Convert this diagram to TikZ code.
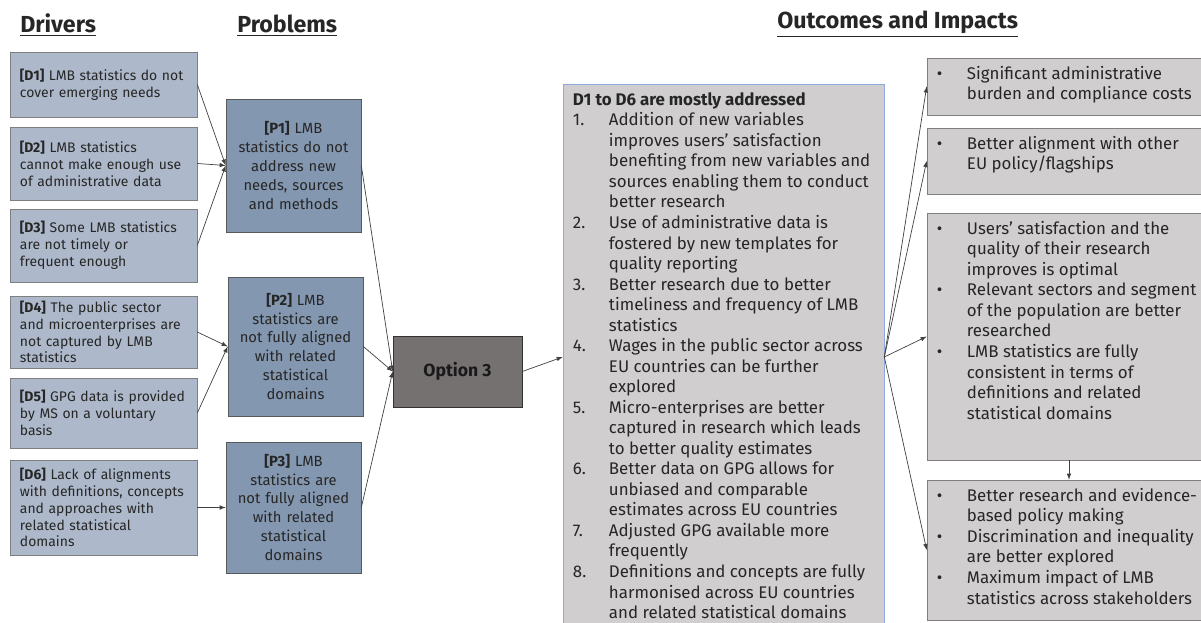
\documentclass[tikz,border=0pt]{standalone}
\usepackage{fontspec}
\setmainfont{Fira Sans}
\usepackage{array}
\definecolor{drvfill}{HTML}{ADB9CA}
\definecolor{prbfill}{HTML}{8497B0}
\definecolor{optfill}{HTML}{767171}
\definecolor{outfill}{HTML}{D0CECE}
\definecolor{boxline}{HTML}{7F7F7F}
\definecolor{resline}{HTML}{8EAADB}
\definecolor{txt}{HTML}{262626}
\begin{document}
\begin{tikzpicture}[x=0.025cm,y=-0.025cm,>=latex,
  drv/.style={draw=boxline,fill=drvfill,text=txt,align=left,text width=4.175cm,inner xsep=0.25cm,minimum width=4.675cm,font=\fontsize{9.9}{12}\selectfont},
  prb/.style={draw=boxline!70!black,fill=prbfill,text=txt,align=center,text width=2.95cm,inner xsep=0.2cm,minimum width=3.375cm,font=\fontsize{10.5}{13.5}\selectfont},
  outbox/.style={draw=boxline,fill=outfill,minimum width=7.1cm},
  hdr/.style={font=\fontsize{16.5}{18}\selectfont\bfseries,text=txt,anchor=base west,inner sep=0},
  lst/.style={anchor=north west,inner sep=0,text=txt,font=\fontsize{12}{14.6}\selectfont},
  conn/.style={->,draw=black!75,line width=0.5pt}]
  \clip (0,0) rectangle (1201,623);

  % headings
  \node[hdr] (hdrv) at (20,33) {\underline{Drivers}};
  \node[hdr] (hprb) at (237,33) {\underline{Problems}};
  \node[hdr] (hout) at (777,29) {\underline{Outcomes and Impacts}};

  % drivers
  \node[drv,minimum height=1.625cm] (d1) at (103.5,84.5) {\textbf{[D1]} LMB statistics do not\\cover emerging needs};
  \node[drv,minimum height=1.825cm] (d2) at (103.5,163.5) {\textbf{[D2]} LMB statistics\\cannot make enough use\\of administrative data};
  \node[drv,minimum height=1.825cm] (d3) at (103.5,245.5) {\textbf{[D3]} Some LMB statistics\\are not timely or\\frequent enough};
  \node[drv,minimum height=1.75cm] (d4) at (103.5,332) {\textbf{[D4]} The public sector\\and microenterprises are\\not captured by LMB\\statistics};
  \node[drv,minimum height=1.75cm] (d5) at (103.5,413) {\textbf{[D5]} GPG data is provided\\by MS on a voluntary\\basis};
  \node[drv,minimum height=2.375cm] (d6) at (103.5,507.5) {\textbf{[D6]} Lack of alignments\\with definitions, concepts\\and approaches with\\related statistical\\domains};

  % problems
  \node[prb,minimum height=3.325cm] (p1) at (293.5,165.5) {\textbf{[P1]} LMB\\statistics do not\\address new\\needs, sources\\and methods};
  \node[prb,minimum height=3.475cm] (p2) at (295.5,346.5) {\textbf{[P2]} LMB\\statistics are\\not fully aligned\\with related\\statistical\\domains};
  \node[prb,minimum height=3.275cm] (p3) at (293.5,507.5) {\textbf{[P3]} LMB\\statistics are\\not fully aligned\\with related\\statistical\\domains};

  % option
  \node[draw=black!80,fill=optfill,text=black!90,minimum width=3.225cm,minimum height=1.775cm,font=\fontsize{12.5}{14}\selectfont\bfseries] (opt) at (457.5,371.5) {Option 3};

  % result of the option
  \node[draw=resline,fill=outfill,minimum width=8.025cm,minimum height=13.65cm] (res) at (723.5,357) {};
  \node[lst] (restxt) at ([shift={(10,7)}]res.north west) {\begin{tabular}{@{}p{0.9cm}@{}l@{}}
    \multicolumn{2}{@{}l@{}}{\textbf{D1 to D6 are mostly addressed}}\\
    1. & Addition of new variables\\
       & improves users' satisfaction\\
       & benefiting from new variables and\\
       & sources enabling them to conduct\\
       & better research\\
    2. & Use of administrative data is\\
       & fostered by new templates for\\
       & quality reporting\\
    3. & Better research due to better\\
       & timeliness and frequency of LMB\\
       & statistics\\
    4. & Wages in the public sector across\\
       & EU countries can be further\\
       & explored\\
    5. & Micro-enterprises are better\\
       & captured in research which leads\\
       & to better quality estimates\\
    6. & Better data on GPG allows for\\
       & unbiased and comparable\\
       & estimates across EU countries\\
    7. & Adjusted GPG available more\\
       & frequently\\
    8. & Definitions and concepts are fully\\
       & harmonised across EU countries\\
       & and related statistical domains
  \end{tabular}};

  % outcomes and impacts
  \node[outbox,minimum height=1.425cm] (o1) at (1069,86.5) {};
  \node[outbox,minimum height=1.65cm] (o2) at (1069,161) {};
  \node[outbox,minimum height=6.175cm] (o3) at (1069,336.5) {};
  \node[outbox,minimum height=3.5cm] (o4) at (1069,550) {};
  \node[lst] (o1txt) at ([shift={(10,7)}]o1.north west) {\begin{tabular}{@{}p{0.75cm}@{}l@{}}
    • & Significant administrative\\
      & burden and compliance costs
  \end{tabular}};
  \node[lst] (o2txt) at ([shift={(10,7)}]o2.north west) {\begin{tabular}{@{}p{0.75cm}@{}l@{}}
    • & Better alignment with other\\
      & EU policy/flagships
  \end{tabular}};
  \node[lst] (o3txt) at ([shift={(10,7)}]o3.north west) {\begin{tabular}{@{}p{0.75cm}@{}l@{}}
    • & Users' satisfaction and the\\
      & quality of their research\\
      & improves is optimal\\
    • & Relevant sectors and segment\\
      & of the population are better\\
      & researched\\
    • & LMB statistics are fully\\
      & consistent in terms of\\
      & definitions and related\\
      & statistical domains
  \end{tabular}};
  \node[lst] (o4txt) at ([shift={(10,7)}]o4.north west) {\begin{tabular}{@{}p{0.75cm}@{}l@{}}
    • & Better research and evidence-\\
      & based policy making\\
    • & Discrimination and inequality\\
      & are better explored\\
    • & Maximum impact of LMB\\
      & statistics across stakeholders
  \end{tabular}};

  % connectors
  \draw[conn] (d1.east) -- (p1.west);
  \draw[conn] (d2.east) -- (p1.west);
  \draw[conn] (d3.east) -- (p1.west);
  \draw[conn] (d4.east) -- (p2.west);
  \draw[conn] (d5.east) -- (p2.west);
  \draw[conn] (d6.east) -- (p3.west);
  \draw[conn] (p1.east) -- (opt.west);
  \draw[conn] (p2.east) -- (opt.west);
  \draw[conn] (p3.east) -- (opt.west);
  \draw[conn] (opt.east) -- (res.west);
  \draw[conn] (res.east) -- (o1.west);
  \draw[conn] (res.east) -- (o2.west);
  \draw[conn] (res.east) -- (o3.west);
  \draw[conn] (res.east) -- (o4.west);
  \draw[conn] (o3.south) -- (o4.north);
\end{tikzpicture}
\end{document}
